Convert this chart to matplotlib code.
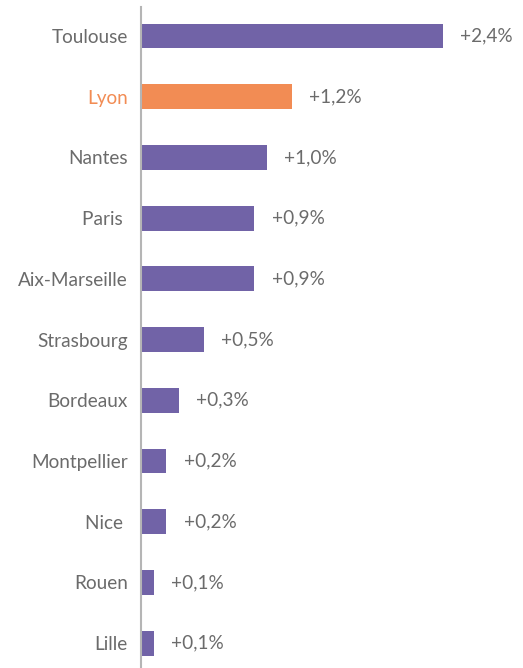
import matplotlib.pyplot as plt

plt.rcParams['font.family'] = ['Lato', 'DejaVu Sans']

cities = ['Toulouse', 'Lyon', 'Nantes', 'Paris ', 'Aix-Marseille', 'Strasbourg',
          'Bordeaux', 'Montpellier', 'Nice ', 'Rouen', 'Lille']
growth = [2.4, 1.2, 1.0, 0.9, 0.9, 0.5, 0.3, 0.2, 0.2, 0.1, 0.1]
labels = ['+2,4%', '+1,2%', '+1,0%', '+0,9%', '+0,9%', '+0,5%',
          '+0,3%', '+0,2%', '+0,2%', '+0,1%', '+0,1%']
highlight = 'Lyon'

purple = '#7163a7'
orange = '#f28c54'
grey_txt = '#6b6b6b'

fig = plt.figure(figsize=(5.23, 6.68), dpi=100)
ax = fig.add_axes([141 / 523, 0, 377.5 / 523, 1 - 7 / 668])

colors = [orange if c == highlight else purple for c in cities]
ypos = list(range(len(cities)))
ax.barh(ypos, growth, height=0.41, color=colors)

ax.set_xlim(0, 3.0)
ax.set_ylim(10.41, -0.478)

for y, v, lab in zip(ypos, growth, labels):
    ax.annotate(lab, (v, y), xytext=(12.5, 0), textcoords='offset points',
                va='center', ha='left', fontsize=13.7, color=grey_txt)

ax.set_yticks(ypos)
ax.set_yticklabels(cities, fontsize=13.7)
for t, c in zip(ax.get_yticklabels(), cities):
    t.set_color(orange if c == highlight else grey_txt)
ax.tick_params(axis='y', length=0, pad=9.5)
ax.set_xticks([])

for s in ['top', 'right', 'bottom']:
    ax.spines[s].set_visible(False)
ax.spines['left'].set_color('#b5b5b5')
ax.spines['left'].set_linewidth(1.5)

fig.savefig('out.png', dpi=100)
